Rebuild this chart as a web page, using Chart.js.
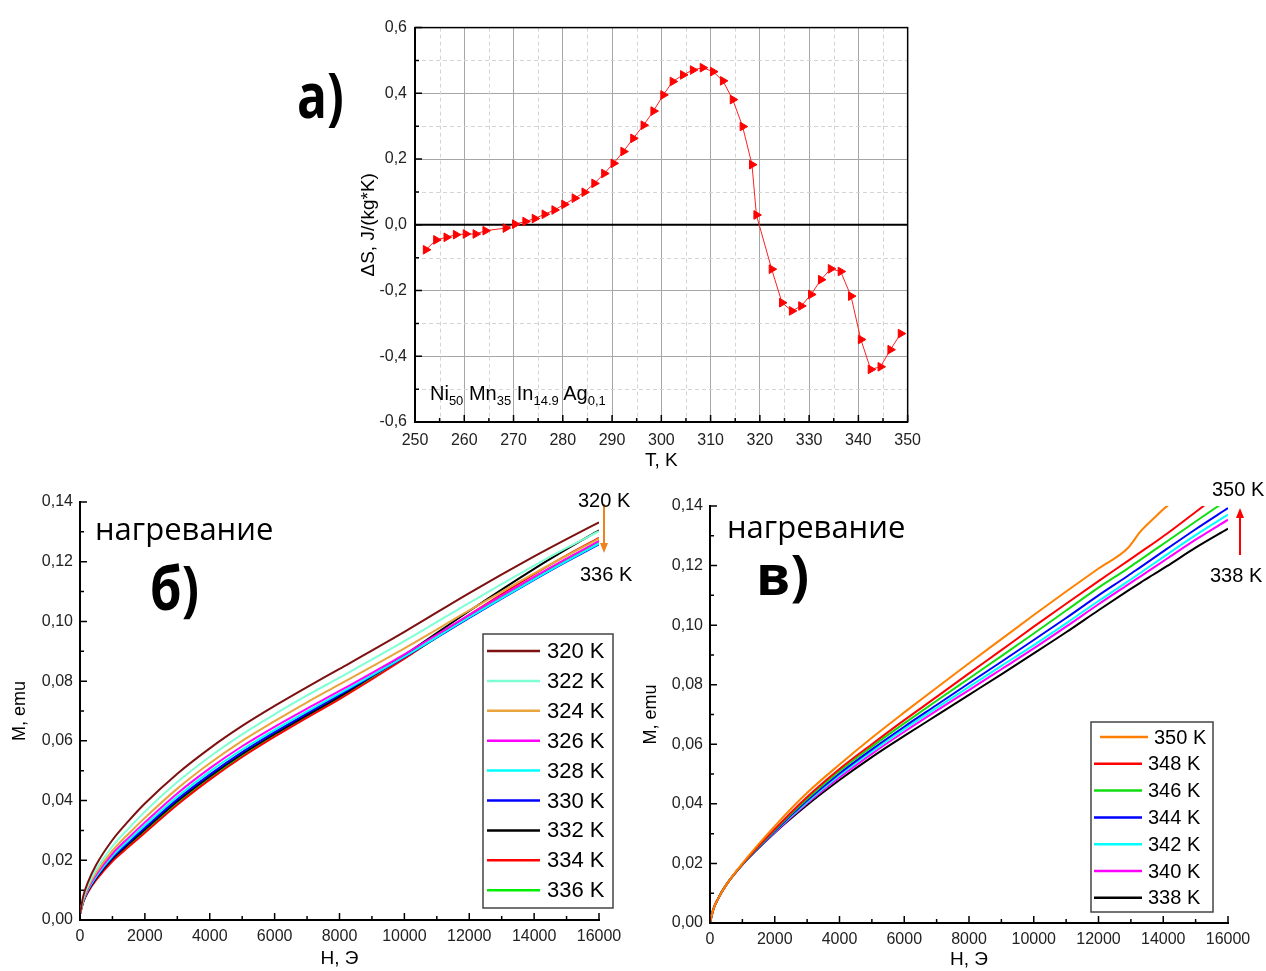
<!DOCTYPE html>
<html lang="ru">
<head>
  <meta charset="UTF-8" />
  <title>ΔS(T) и M(H) Ni50Mn35In14.9Ag0.1</title>
  <script src="https://cdn.jsdelivr.net/npm/chart.js"></script>
  <style>
    body { margin: 0; background: #fff; }
    #page { position: relative; width: 1266px; height: 971px; overflow: hidden; font-family: "Liberation Sans", Arial, sans-serif; color: #000; }
    canvas { position: absolute; }
    .txt { position: absolute; white-space: nowrap; line-height: 1; }
    .mark { font-family: "Open Sans", sans-serif; font-weight: 700; transform-origin: left top; }
    .heat { font-family: "Open Sans", sans-serif; font-size: 31px; }
    .tk { font-size: 20px; }
    .formula { font-size: 20px; }
    .formula sub { font-size: 13px; vertical-align: -5px; }
  </style>
</head>
<body>
<div id="page">
  <canvas id="chartA" width="590" height="470" style="left:340px;top:10px"></canvas>
  <canvas id="chartB" width="640" height="490" style="left:0;top:480px"></canvas>
  <canvas id="chartC" width="626" height="491" style="left:640px;top:480px"></canvas>

  <div class="txt mark" style="left:297px;top:63px;font-size:62px;transform:scaleX(0.8)">а)</div>
  <div class="txt formula" style="left:430px;top:383px">Ni<sub>50</sub> Mn<sub>35</sub> In<sub>14.9</sub> Ag<sub>0,1</sub></div>

  <div class="txt heat" style="left:95px;top:513px">нагревание</div>
  <div class="txt mark" style="left:150px;top:557px;font-size:60px;transform:scaleX(0.85)">б)</div>
  <div class="txt tk" style="left:578px;top:490px">320 K</div>
  <div class="txt tk" style="left:580px;top:564px">336 K</div>

  <div class="txt heat" style="left:727px;top:511px">нагревание</div>
  <div class="txt mark" style="left:756px;top:546px;font-size:55px">в)</div>
  <div class="txt tk" style="left:1212px;top:479px">350 K</div>
  <div class="txt tk" style="left:1210px;top:565px">338 K</div>
</div>

<script>
  Chart.defaults.font.family = '"Liberation Sans", Arial, sans-serif';
  Chart.defaults.color = '#000';

  // а) ΔS(T)
  const tempK = [252.2, 254.3, 256.4, 258.3, 260.3, 262.3, 264.3, 268.4, 270.3, 272.4, 274.3, 276.3,
    278.3, 280.3, 282.4, 284.4, 286.4, 288.4, 290.3, 292.3, 294.3, 296.4, 298.4, 300.4, 302.3, 304.4,
    306.4, 308.4, 310.5, 312.5, 314.5, 316.5, 318.4, 319.3, 322.4, 324.5, 326.5, 328.4, 330.4, 332.4,
    334.4, 336.4, 338.5, 340.5, 342.5, 344.5, 346.5, 348.6];
  const deltaS = [-0.076, -0.046, -0.038, -0.030, -0.028, -0.028, -0.018, -0.010, 0.002, 0.010, 0.019, 0.032,
    0.045, 0.062, 0.081, 0.099, 0.126, 0.156, 0.187, 0.223, 0.263, 0.303, 0.346, 0.395, 0.436, 0.456,
    0.471, 0.478, 0.466, 0.438, 0.381, 0.299, 0.183, 0.030, -0.135, -0.237, -0.262, -0.247, -0.212, -0.167,
    -0.134, -0.142, -0.217, -0.349, -0.440, -0.432, -0.380, -0.331];

  // б) M(H) при 320–336 K
  const fieldB = [0, 100, 250, 500, 1000, 1500, 2000, 3000, 4000, 5000, 6000, 7000, 8000, 10000, 12000, 14000, 15000, 16000];
  const labelsB = ['320 K', '322 K', '324 K', '326 K', '328 K', '330 K', '332 K', '334 K', '336 K'];
  const colorsB = ['#7d1010', '#7fffd4', '#e8a53c', '#ff00ff', '#00ffff', '#0000ff', '#000000', '#ff0000', '#00ee00'];
  const m320 = [0.002, 0.0080, 0.0128, 0.0185, 0.0268, 0.0332, 0.0390, 0.0490, 0.0575, 0.0650, 0.0717, 0.0780, 0.0841, 0.0965, 0.1095, 0.1218, 0.1276, 0.1332];
  const m322 = [0.002, 0.0073, 0.0117, 0.0169, 0.0247, 0.0307, 0.0363, 0.0462, 0.0547, 0.0622, 0.0689, 0.0752, 0.0812, 0.0934, 0.1062, 0.1187, 0.1246, 0.1302];
  const m324 = [0.002, 0.0069, 0.0111, 0.0159, 0.0232, 0.0289, 0.0342, 0.0440, 0.0525, 0.0600, 0.0666, 0.0729, 0.0789, 0.0910, 0.1037, 0.1161, 0.1220, 0.1277];
  const m326 = [0.002, 0.0066, 0.0106, 0.0152, 0.0222, 0.0276, 0.0327, 0.0424, 0.0508, 0.0582, 0.0647, 0.0708, 0.0767, 0.0890, 0.1022, 0.1149, 0.1210, 0.1270];
  const m328 = [0.002, 0.0064, 0.0102, 0.0146, 0.0214, 0.0267, 0.0317, 0.0413, 0.0497, 0.0571, 0.0637, 0.0699, 0.0759, 0.0882, 0.1014, 0.1141, 0.1202, 0.1261];
  const m330 = [0.002, 0.0063, 0.0100, 0.0143, 0.0209, 0.0260, 0.0309, 0.0404, 0.0487, 0.0562, 0.0629, 0.0692, 0.0754, 0.0880, 0.1012, 0.1139, 0.1200, 0.1258];
  const m332 = [0.002, 0.0062, 0.0098, 0.0140, 0.0205, 0.0255, 0.0303, 0.0398, 0.0481, 0.0556, 0.0623, 0.0686, 0.0748, 0.0887, 0.1035, 0.1176, 0.1242, 0.1305];
  const m334 = [0.002, 0.0060, 0.0094, 0.0134, 0.0197, 0.0245, 0.0292, 0.0386, 0.0470, 0.0546, 0.0614, 0.0678, 0.0740, 0.0875, 0.1022, 0.1158, 0.1221, 0.1280];
  const m336 = [0.002, 0.0061, 0.0096, 0.0137, 0.0201, 0.0250, 0.0298, 0.0392, 0.0475, 0.0551, 0.0620, 0.0684, 0.0746, 0.0877, 0.1015, 0.1145, 0.1206, 0.1265];
  const curvesB = [m320, m322, m324, m326, m328, m330, m332, m334, m336];

  // в) M(H) при 338–350 K
  const fieldC = [0, 100, 250, 500, 1000, 2000, 3000, 4000, 5000, 6000, 7000, 8000, 9000, 10000, 11000, 12000, 12900, 13300, 13700, 14100, 15000, 16000];
  const labelsC = ['350 K', '348 K', '346 K', '344 K', '342 K', '340 K', '338 K'];
  const colorsC = ['#ff8000', '#ff0000', '#11dd11', '#0000ff', '#00ffff', '#ff00ff', '#000000'];
  const m350 = [0, 0.0045, 0.0082, 0.0128, 0.0200, 0.0325, 0.0437, 0.0532, 0.0622, 0.0707, 0.0790, 0.0872, 0.0953, 0.1034, 0.1113, 0.1190, 0.1258, 0.1315, 0.1358, 0.1398, 0.1460, 0.1520];
  const m348 = [0, 0.0045, 0.0082, 0.0128, 0.0198, 0.0315, 0.0423, 0.0517, 0.0600, 0.0681, 0.0759, 0.0838, 0.0916, 0.0995, 0.1072, 0.1148, 0.1215, 0.1245, 0.1275, 0.1306, 0.1380, 0.1462];
  const m346 = [0, 0.0045, 0.0082, 0.0128, 0.0197, 0.0312, 0.0417, 0.0510, 0.0592, 0.0670, 0.0746, 0.0821, 0.0896, 0.0972, 0.1049, 0.1126, 0.1190, 0.1220, 0.1250, 0.1280, 0.1348, 0.1422];
  const m344 = [0, 0.0045, 0.0082, 0.0128, 0.0196, 0.0309, 0.0411, 0.0502, 0.0583, 0.0659, 0.0732, 0.0805, 0.0877, 0.0950, 0.1024, 0.1100, 0.1165, 0.1195, 0.1225, 0.1255, 0.1322, 0.1393];
  const m342 = [0, 0.0045, 0.0082, 0.0128, 0.0196, 0.0307, 0.0406, 0.0496, 0.0576, 0.0651, 0.0722, 0.0793, 0.0863, 0.0933, 0.1006, 0.1081, 0.1146, 0.1176, 0.1206, 0.1236, 0.1302, 0.1371];
  const m340 = [0, 0.0045, 0.0082, 0.0128, 0.0196, 0.0305, 0.0402, 0.0489, 0.0568, 0.0642, 0.0713, 0.0782, 0.0852, 0.0922, 0.0995, 0.1070, 0.1135, 0.1164, 0.1193, 0.1222, 0.1287, 0.1354];
  const m338 = [0, 0.0045, 0.0082, 0.0128, 0.0196, 0.0303, 0.0396, 0.0480, 0.0557, 0.0628, 0.0697, 0.0766, 0.0835, 0.0905, 0.0976, 0.1050, 0.1115, 0.1143, 0.1170, 0.1197, 0.1260, 0.1324];
  const curvesC = [m350, m348, m346, m344, m342, m340, m338];

  const comma = (v, d) => (Math.abs(v) < 1e-9 ? 0 : v).toFixed(d).replace('.', ',');

  // minor grid, zero line, inward ticks, frame, legend box and arrow
  const decor = {
    id: 'decor',
    beforeDatasetsDraw(chart, args, o) {
      const { ctx, chartArea: a, scales: { x, y } } = chart;
      ctx.save();
      if (o.minorGrid) {
        const [sx, sy] = o.minorGrid;
        ctx.strokeStyle = '#d4d4d4';
        ctx.lineWidth = 1;
        ctx.setLineDash([4, 3]);
        ctx.beginPath();
        for (let v = x.min + sx; v < x.max; v += 2 * sx) {
          const p = Math.round(x.getPixelForValue(v)) + 0.5;
          ctx.moveTo(p, a.top); ctx.lineTo(p, a.bottom);
        }
        for (let v = y.min + sy; v < y.max; v += 2 * sy) {
          const p = Math.round(y.getPixelForValue(v)) + 0.5;
          ctx.moveTo(a.left, p); ctx.lineTo(a.right, p);
        }
        ctx.stroke();
        ctx.setLineDash([]);
      }
      if (o.zeroLine) {
        const p = y.getPixelForValue(0);
        ctx.strokeStyle = '#000';
        ctx.lineWidth = 2;
        ctx.beginPath(); ctx.moveTo(a.left, p); ctx.lineTo(a.right, p); ctx.stroke();
      }
      ctx.restore();
    },
    afterDraw(chart, args, o) {
      const { ctx, chartArea: a, scales: { x, y } } = chart;
      ctx.save();
      ctx.strokeStyle = '#000';
      if (o.frame) {
        ctx.lineWidth = 1.5;
        ctx.strokeRect(a.left, a.top, a.width, a.height);
      }
      if (o.ticks) {
        const [sx, sy] = o.ticks;
        ctx.lineWidth = 1.5;
        ctx.beginPath();
        let i = 0;
        for (let v = x.min; v <= x.max + 1e-9; v += sx, i++) {
          const p = x.getPixelForValue(v), len = i % 2 ? 4 : 7;
          ctx.moveTo(p, a.bottom); ctx.lineTo(p, a.bottom - len);
        }
        i = 0;
        for (let v = y.min; v <= y.max + 1e-9; v += sy, i++) {
          const p = y.getPixelForValue(v), len = i % 2 ? 4 : 7;
          ctx.moveTo(a.left, p); ctx.lineTo(a.left + len, p);
        }
        ctx.stroke();
      }
      if (o.legend) {
        const L = o.legend;
        ctx.strokeStyle = '#444';
        ctx.lineWidth = 1.5;
        ctx.strokeRect(L.x, L.y, L.w, L.h);
        ctx.font = L.font;
        ctx.textBaseline = 'middle';
        ctx.fillStyle = '#000';
        chart.data.datasets.forEach((ds, k) => {
          const cy = L.y + L.first + k * L.row;
          const sh = (L.shift && L.shift[k]) || 0;
          ctx.strokeStyle = ds.borderColor;
          ctx.lineWidth = 2.5;
          ctx.beginPath(); ctx.moveTo(L.x0 + sh, cy); ctx.lineTo(L.x1 + sh, cy); ctx.stroke();
          ctx.fillText(ds.label, L.tx + sh, cy + 1);
        });
      }
      if (o.arrow) {
        const A = o.arrow, dir = Math.sign(A.y1 - A.y0);
        ctx.strokeStyle = A.color;
        ctx.fillStyle = A.color;
        ctx.lineWidth = 2;
        ctx.beginPath(); ctx.moveTo(A.x, A.y0); ctx.lineTo(A.x, A.y1 - dir * 8); ctx.stroke();
        ctx.beginPath();
        ctx.moveTo(A.x, A.y1);
        ctx.lineTo(A.x - 4, A.y1 - dir * 10);
        ctx.lineTo(A.x + 4, A.y1 - dir * 10);
        ctx.closePath(); ctx.fill();
      }
      ctx.restore();
    }
  };
  Chart.register(decor);

  new Chart(document.getElementById('chartA'), {
    type: 'line',
    data: {
      datasets: [{
        label: 'ΔS',
        data: tempK.map((t, i) => ({ x: t, y: deltaS[i] })),
        borderColor: '#ff2020',
        borderWidth: 1,
        pointStyle: 'triangle',
        pointRotation: 90,
        pointRadius: 5,
        pointBackgroundColor: '#ff0000',
        pointBorderColor: '#ff0000',
        pointBorderWidth: 1,
        tension: 0
      }]
    },
    options: {
      responsive: false,
      animation: false,
      layout: { padding: { top: 15, right: 20, left: 0, bottom: 0 } },
      plugins: {
        legend: { display: false },
        tooltip: { enabled: false },
        decor: { minorGrid: [5, 0.1], zeroLine: true, frame: true, ticks: [5, 0.1] }
      },
      scales: {
        x: {
          type: 'linear', min: 250, max: 350,
          afterFit(s) { s.height = 58; },
          ticks: { stepSize: 10, padding: 9, maxRotation: 0, font: { size: 16 }, color: '#222' },
          grid: { color: '#a6a6a6', lineWidth: 1, drawTicks: false },
          border: { color: '#000', width: 2 },
          title: { display: true, text: 'T, K', font: { size: 19 }, padding: { top: 0, bottom: 8 } }
        },
        y: {
          min: -0.6, max: 0.6,
          afterFit(s) { s.width = 75; },
          ticks: { stepSize: 0.2, padding: 8, font: { size: 16 }, color: '#222', callback: v => comma(v, 1) },
          grid: { color: '#a6a6a6', lineWidth: 1, drawTicks: false },
          border: { color: '#000', width: 2 },
          title: { display: true, text: 'ΔS, J/(kg*K)', font: { size: 19 }, padding: { top: 17, bottom: 0 } }
        }
      }
    }
  });

  function mhChart(id, field, curves, labels, colors, box, decorOpts) {
    return new Chart(document.getElementById(id), {
      type: 'line',
      data: {
        datasets: curves.map((c, i) => ({
          label: labels[i],
          data: field.map((h, j) => ({ x: h, y: c[j] })),
          borderColor: colors[i],
          borderWidth: 2,
          pointRadius: 0,
          cubicInterpolationMode: 'monotone'
        }))
      },
      options: {
        responsive: false,
        animation: false,
        layout: { padding: { top: box.top, right: box.right, left: 0, bottom: 0 } },
        plugins: { legend: { display: false }, tooltip: { enabled: false }, decor: decorOpts },
        scales: {
          x: {
            type: 'linear', min: 0, max: 16000,
            afterFit(s) { s.height = box.xh; },
            ticks: { stepSize: 2000, padding: 7, maxRotation: 0, autoSkip: false, font: { size: 16 }, color: '#222', callback: v => String(v) },
            grid: { drawOnChartArea: false, drawTicks: false },
            border: { color: '#000', width: 2 },
            title: { display: true, text: 'H, Э', font: { size: 19 }, padding: { top: 0, bottom: 0 } }
          },
          y: {
            min: 0, max: 0.14,
            afterFit(s) { s.width = box.yw; },
            ticks: { stepSize: 0.02, padding: 7, font: { size: 16 }, color: '#222', callback: v => comma(v, 2) },
            grid: { drawOnChartArea: false, drawTicks: false },
            border: { color: '#000', width: 2 },
            title: { display: true, text: 'M, emu', font: { size: 18 }, padding: { top: box.tp, bottom: 0 } }
          }
        }
      }
    });
  }

  mhChart('chartB', fieldB, curvesB, labelsB, colorsB,
    { top: 22, right: 41, xh: 50, yw: 80, tp: 9 },
    {
      ticks: [1000, 0.01],
      legend: { x: 483, y: 154, w: 130, h: 274, first: 17, row: 29.9, x0: 487, x1: 540, tx: 547, font: '22px "Liberation Sans"' },
      arrow: { x: 604, y0: 24, y1: 73, color: '#f0821e' }
    });

  mhChart('chartC', fieldC, curvesC, labelsC, colorsC,
    { top: 26, right: 38, xh: 48, yw: 70, tp: 0 },
    {
      ticks: [1000, 0.01],
      legend: { x: 451, y: 242, w: 122, h: 190, first: 15, row: 26.8, x0: 454, x1: 502, tx: 508, shift: [6, 0, 0, 0, 0, 0, 0], font: '20px "Liberation Sans"' },
      arrow: { x: 600, y0: 75, y1: 28, color: '#ff0000' }
    });
</script>
</body>
</html>
